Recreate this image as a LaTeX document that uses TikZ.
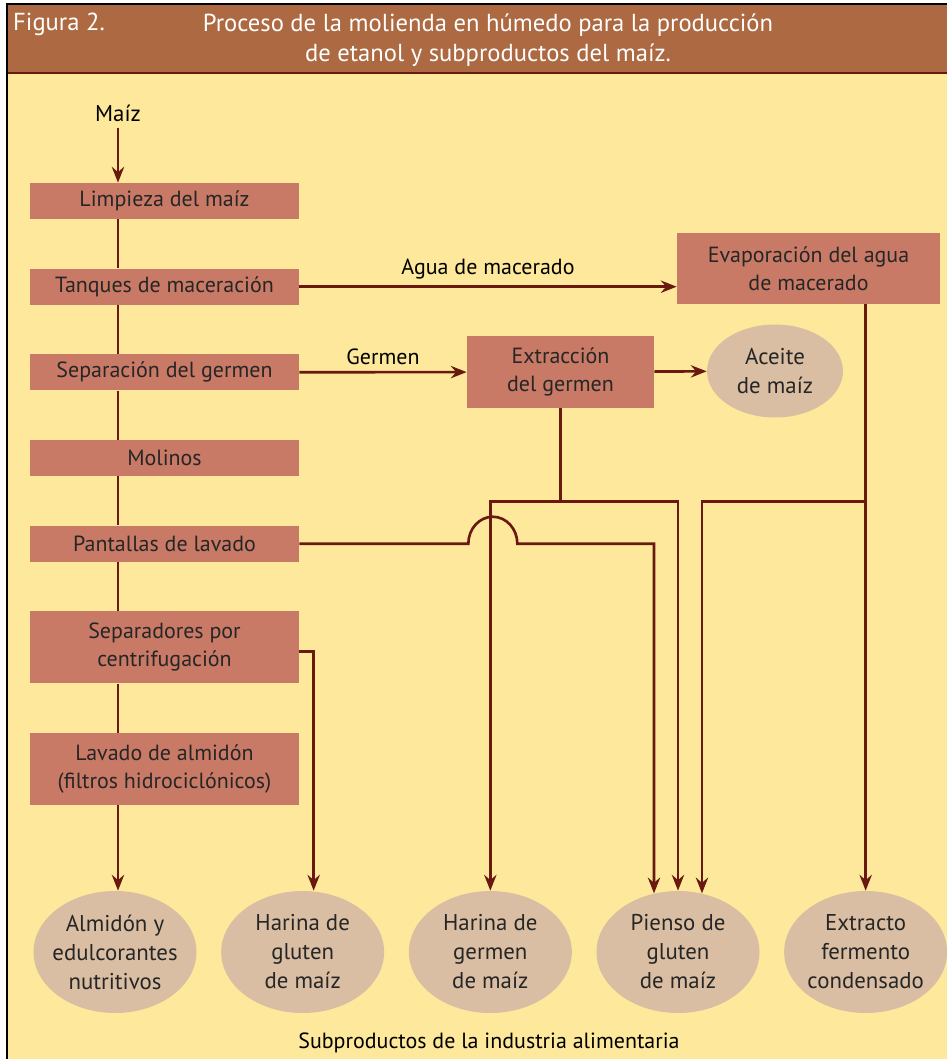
\documentclass[tikz,border=0pt]{standalone}
\usepackage{xcolor}
\usepackage{fontspec}
\setmainfont{PT Sans}
\usepackage{tikz}
\usetikzlibrary{shapes.geometric, arrows.meta, positioning, calc}
\definecolor{bgyellow}{RGB}{253,232,155}
\definecolor{headbrown}{RGB}{172,105,66}
\definecolor{boxbrown}{RGB}{200,122,102}
\definecolor{ovaltan}{RGB}{217,190,163}
\definecolor{linebrown}{RGB}{105,25,15}
\newcommand{\stagefont}{\fontsize{12.5}{16}\selectfont}
\newcommand{\prodfont}{\fontsize{13}{16.5}\selectfont}
\newcommand{\headerfont}{\fontsize{14}{17}\selectfont}
\tikzstyle{stage} = [rectangle, minimum width=5.38cm, minimum height=0.72cm, text centered, align=center, fill=boxbrown, text=black!85, font=\stagefont]
\tikzstyle{tall} = [minimum height=1.44cm]
\tikzstyle{product} = [ellipse, minimum width=3.26cm, minimum height=2.44cm, inner sep=-6pt, align=center, fill=ovaltan, text=black!85, font=\prodfont]
\tikzstyle{flow} = [line width=1.5pt, draw=linebrown]
\tikzstyle{arrow} = [flow, -{Stealth[length=9pt, width=7pt, inset=3pt]}]

\begin{document}
\begin{tikzpicture}[x=0.02cm, y=-0.02cm, node distance=0.98cm]
    % frame and header
    \useasboundingbox (0,0) rectangle (947,1059);
    \fill [bgyellow] (7,4) rectangle (947,1059);
    \fill [headbrown] (7,4) rectangle (947,72);
    \draw [linebrown, line width=1.5pt] (7,73) -- (947,73);
    \draw [black, line width=0.8pt] (7,1059) -- (7,4) -- (947,4);
    \node (fig) [anchor=west, text=white, font=\headerfont] at (7,24) {Figura 2.};
    \node (title) [align=center, text=white, font=\headerfont] at (488,40) {Proceso de la molienda en húmedo para la producción\\de etanol y subproductos del maíz.};

    % main column
    \node (maiz) [font=\prodfont] at (118,113) {Maíz};
    \coordinate (spine) at (118,0);
    \node (limpieza) [stage] at (164.5,201) {Limpieza del maíz};
    \node (tanques) [stage, below=of limpieza] {Tanques de maceración};
    \node (separacion) [stage, below=of tanques] {Separación del germen};
    \node (molinos) [stage, below=of separacion] {Molinos};
    \node (pantallas) [stage, below=of molinos] {Pantallas de lavado};
    \node (separadores) [stage, tall, below=of pantallas] {Separadores por\\centrifugación};
    \node (lavado) [stage, tall, below=of separadores] {Lavado de almidón\\(filtros hidrociclónicos)};

    % side processes
    \node (evaporacion) [stage, minimum width=5.26cm, minimum height=1.42cm] at (808.5,268.5) {Evaporación del agua\\de macerado};
    \node (extraccion) [stage, minimum width=3.74cm, tall] at (560.5,372) {Extracción\\del germen};
    \node (aceite) [product, minimum width=2.72cm, minimum height=1.86cm] at (775,371) {Aceite\\de maíz};

    % products
    \node (almidon) [product] at (115,952) {Almidón y\\edulcorantes\\nutritivos};
    \node (gluten) [product, right=0.48cm of almidon] {Harina de\\gluten\\de maíz};
    \node (germen) [product, right=0.48cm of gluten] {Harina de\\germen\\de maíz};
    \node (pienso) [product, right=0.48cm of germen] {Pienso de\\gluten\\de maíz};
    \node (extracto) [product, right=0.48cm of pienso] {Extracto\\fermento\\condensado};
    \node (subtitulo) [font=\stagefont] at (489,1043) {Subproductos de la industria alimentaria};

    % connectors
    \draw [arrow] (maiz) -- (limpieza.north -| maiz);
    \foreach \a/\b in {limpieza/tanques, tanques/separacion, separacion/molinos, molinos/pantallas, pantallas/separadores, separadores/lavado}
        \draw [flow] (\a.south -| spine) -- (\b.north -| spine);
    \draw [arrow] (lavado.south -| spine) -- (almidon.north -| spine);
    \draw [arrow] (tanques.east) -- node[above, font=\stagefont] {Agua de macerado} (tanques.east -| evaporacion.west);
    \draw [arrow] (separacion) -- node[above, font=\stagefont] {Germen} (extraccion);
    \draw [arrow] (extraccion) -- (aceite);
    \draw [flow] (extraccion.south) -- ++(0,93) coordinate (xj);
    \draw [arrow] (xj) -| (germen);
    \draw [arrow] (xj) -| (pienso);
    \draw [arrow] (evaporacion.south -| extracto) -- (extracto);
    \draw [arrow] (xj -| extracto) -| ([xshift=0.48cm, yshift=-0.054cm]pienso.north);
    \draw [arrow] (pantallas.east) -- ([xshift=-0.44cm]pantallas.east -| germen) arc[start angle=180, end angle=0, x radius=0.49cm, y radius=0.54cm] -| ([xshift=-0.48cm, yshift=-0.054cm]pienso.north);
    \draw [arrow] ([yshift=-0.08cm]separadores.east) -| ([xshift=0.22cm]gluten.north);
\end{tikzpicture}
\end{document}
